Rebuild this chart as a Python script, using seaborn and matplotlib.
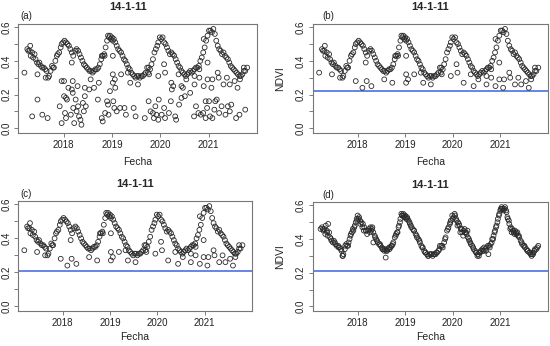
import numpy as np
import pandas as pd
import matplotlib
matplotlib.use("Agg")
import matplotlib.pyplot as plt
import seaborn as sns

# seasonal NDVI curve (decimal year, NDVI)
curve_t = [2017.25, 2017.27, 2017.30, 2017.32, 2017.35, 2017.37, 2017.40, 2017.42, 2017.45, 2017.48,
           2017.50, 2017.53, 2017.56, 2017.59, 2017.62, 2017.65, 2017.68, 2017.70, 2017.73, 2017.76,
           2017.78, 2017.80, 2017.83, 2017.86, 2017.88, 2017.91, 2017.94, 2017.96, 2017.99, 2018.02,
           2018.05, 2018.08, 2018.11, 2018.14, 2018.17, 2018.20, 2018.24, 2018.27, 2018.30, 2018.33,
           2018.36, 2018.39, 2018.42, 2018.45, 2018.48, 2018.51, 2018.54, 2018.57, 2018.60, 2018.63,
           2018.66, 2018.69, 2018.72, 2018.75, 2018.78, 2018.81, 2018.84, 2018.87, 2018.90, 2018.92,
           2018.94, 2018.96, 2018.98, 2019.00, 2019.02, 2019.04, 2019.07, 2019.10, 2019.13, 2019.16,
           2019.19, 2019.22, 2019.25, 2019.28, 2019.31, 2019.34, 2019.37, 2019.40, 2019.43, 2019.46,
           2019.49, 2019.52, 2019.55, 2019.58, 2019.61, 2019.64, 2019.67, 2019.70, 2019.73, 2019.76,
           2019.79, 2019.82, 2019.85, 2019.88, 2019.91, 2019.94, 2019.96, 2019.99, 2020.02, 2020.05,
           2020.08, 2020.11, 2020.14, 2020.17, 2020.20, 2020.23, 2020.26, 2020.29, 2020.32, 2020.35,
           2020.38, 2020.41, 2020.44, 2020.47, 2020.50, 2020.53, 2020.56, 2020.59, 2020.62, 2020.65,
           2020.68, 2020.71, 2020.74, 2020.77, 2020.80, 2020.83, 2020.86, 2020.89, 2020.92, 2020.95,
           2020.98, 2021.01, 2021.04, 2021.07, 2021.10, 2021.13, 2021.16, 2021.19, 2021.22, 2021.25,
           2021.28, 2021.31, 2021.34, 2021.37, 2021.40, 2021.43, 2021.46, 2021.49, 2021.52, 2021.55,
           2021.58, 2021.61, 2021.64, 2021.67, 2021.70, 2021.73, 2021.76, 2021.80]
curve_v = [0.47, 0.46, 0.46, 0.43, 0.45, 0.42, 0.44, 0.41, 0.39, 0.38,
           0.39, 0.37, 0.36, 0.36, 0.35, 0.34, 0.30, 0.31, 0.34, 0.37,
           0.36, 0.36, 0.40, 0.43, 0.44, 0.45, 0.48, 0.50, 0.51, 0.52,
           0.51, 0.50, 0.49, 0.47, 0.45, 0.43, 0.46, 0.47, 0.46, 0.44,
           0.42, 0.40, 0.38, 0.37, 0.36, 0.35, 0.34, 0.34, 0.33, 0.34,
           0.35, 0.35, 0.36, 0.38, 0.41, 0.43, 0.44, 0.48, 0.52, 0.55,
           0.54, 0.55, 0.53, 0.54, 0.52, 0.53, 0.51, 0.49, 0.47, 0.46,
           0.45, 0.43, 0.41, 0.40, 0.38, 0.36, 0.35, 0.33, 0.32, 0.31,
           0.30, 0.31, 0.31, 0.30, 0.31, 0.31, 0.32, 0.33, 0.36, 0.36,
           0.35, 0.38, 0.41, 0.45, 0.47, 0.49, 0.51, 0.54, 0.53, 0.54,
           0.51, 0.50, 0.48, 0.46, 0.44, 0.45, 0.44, 0.43, 0.41, 0.39,
           0.37, 0.36, 0.34, 0.33, 0.32, 0.31, 0.32, 0.33, 0.34, 0.33,
           0.34, 0.35, 0.36, 0.36, 0.37, 0.40, 0.42, 0.45, 0.48, 0.52,
           0.55, 0.58, 0.58, 0.57, 0.59, 0.56, 0.52, 0.49, 0.47, 0.46,
           0.44, 0.45, 0.43, 0.42, 0.41, 0.39, 0.37, 0.36, 0.35, 0.34,
           0.33, 0.32, 0.31, 0.31, 0.32, 0.34, 0.34, 0.36]

# scattered values between the threshold and the curve
mid_t = [2017.19, 2017.31, 2017.46, 2017.63, 2017.96, 2018.10, 2018.19, 2018.29, 2018.17, 2018.56,
         2018.73, 2018.79, 2018.85, 2019.02, 2019.02, 2019.02, 2019.06, 2019.19, 2019.33, 2019.38,
         2019.54, 2019.77, 2019.75, 2019.96, 2020.08, 2020.10, 2020.23, 2020.38, 2020.44, 2020.54,
         2020.71, 2020.71, 2020.81, 2020.81, 2020.90, 2020.90, 2020.98, 2020.98, 2021.06, 2021.08,
         2021.19, 2021.21, 2021.31, 2021.38, 2021.44, 2021.54, 2021.60, 2021.65, 2021.73]
mid_v = [0.33, 0.49, 0.32, 0.30, 0.28, 0.24, 0.28, 0.25, 0.39, 0.29,
         0.27, 0.43, 0.43, 0.43, 0.32, 0.27, 0.29, 0.32, 0.33, 0.27,
         0.26, 0.32, 0.33, 0.31, 0.38, 0.33, 0.27, 0.32, 0.25, 0.29,
         0.31, 0.26, 0.30, 0.35, 0.25, 0.53, 0.39, 0.29, 0.24, 0.29,
         0.33, 0.30, 0.26, 0.30, 0.26, 0.28, 0.24, 0.29, 0.36]

# low values (cloud contaminated), only in the raw series
low_t = [2017.35, 2017.46, 2017.56, 2017.67, 2017.92, 2017.96, 2018.01, 2018.01, 2018.05, 2018.07,
         2018.03, 2018.05, 2018.15, 2018.17, 2018.19, 2018.20, 2018.22, 2018.25, 2018.27, 2018.30,
         2018.32, 2018.35, 2018.37, 2018.40, 2018.42, 2018.44, 2018.46, 2018.53, 2018.44, 2018.63,
         2018.71, 2018.79, 2018.81, 2018.86, 2018.90, 2018.93, 2018.96, 2018.92, 2019.03, 2019.07,
         2019.05, 2019.10, 2019.17, 2019.26, 2019.29, 2019.45, 2019.49, 2019.68, 2019.76, 2019.80,
         2019.85, 2019.87, 2019.90, 2019.92, 2019.96, 2019.97, 2020.03, 2020.08, 2020.10, 2020.18,
         2020.22, 2020.24, 2020.27, 2020.31, 2020.33, 2020.39, 2020.44, 2020.47, 2020.51, 2020.62,
         2020.70, 2020.74, 2020.79, 2020.84, 2020.89, 2020.94, 2020.94, 2020.97, 2021.01, 2021.03,
         2021.08, 2021.12, 2021.14, 2021.17, 2021.22, 2021.27, 2021.35, 2021.40, 2021.44, 2021.47,
         2021.57, 2021.64, 2021.76]
low_v = [0.07, 0.17, 0.08, 0.06, 0.13, 0.03, 0.28, 0.19, 0.18, 0.17,
         0.09, 0.06, 0.08, 0.23, 0.21, 0.12, 0.03, 0.17, 0.10, 0.13,
         0.07, 0.05, 0.02, 0.15, 0.10, 0.19, 0.13, 0.23, 0.24, 0.24,
         0.17, 0.06, 0.04, 0.09, 0.16, 0.08, 0.22, 0.14, 0.16, 0.24,
         0.12, 0.10, 0.12, 0.12, 0.08, 0.12, 0.07, 0.06, 0.16, 0.10,
         0.09, 0.06, 0.13, 0.08, 0.05, 0.17, 0.08, 0.12, 0.06, 0.09,
         0.16, 0.23, 0.25, 0.07, 0.05, 0.14, 0.18, 0.24, 0.19, 0.21,
         0.07, 0.13, 0.09, 0.08, 0.09, 0.06, 0.16, 0.12, 0.16, 0.07,
         0.06, 0.11, 0.16, 0.17, 0.09, 0.13, 0.08, 0.13, 0.10, 0.14,
         0.06, 0.08, 0.11]

# gap-filled values of the smoothed series (panel d)
fill_t = [2017.22, 2017.28, 2017.33, 2017.36, 2017.38, 2017.44, 2017.52, 2017.60, 2017.66, 2017.69,
          2017.74, 2017.81, 2017.85, 2017.90, 2017.93, 2017.98, 2018.00, 2018.03, 2018.06, 2018.10,
          2018.13, 2018.18, 2018.22, 2018.26, 2018.29, 2018.31, 2018.33, 2018.37, 2018.41, 2018.47,
          2018.52, 2018.56, 2018.59, 2018.62, 2018.67, 2018.71, 2018.74, 2018.80, 2018.83, 2018.86,
          2018.89, 2018.93, 2018.97, 2019.01, 2019.05, 2019.09, 2019.12, 2019.18, 2019.24, 2019.30,
          2019.36, 2019.42, 2019.48, 2019.54, 2019.60, 2019.66, 2019.72, 2019.78, 2019.84, 2019.90,
          2019.95, 2020.00, 2020.04, 2020.07, 2020.10, 2020.13, 2020.16, 2020.19, 2020.22, 2020.25,
          2020.28, 2020.31, 2020.34, 2020.37, 2020.43, 2020.49, 2020.52, 2020.55, 2020.58, 2020.63,
          2020.66, 2020.70, 2020.75, 2020.78, 2020.82, 2020.85, 2020.88, 2020.91, 2020.94, 2020.97,
          2021.00, 2021.03, 2021.06, 2021.09, 2021.12, 2021.15, 2021.18, 2021.21, 2021.24, 2021.27,
          2021.30, 2021.33, 2021.36, 2021.39, 2021.45, 2021.51, 2021.57, 2021.63, 2021.66, 2021.69,
          2021.72, 2021.78]
fill_v = [0.46, 0.45, 0.48, 0.44, 0.49, 0.40, 0.38, 0.35, 0.33, 0.30,
          0.36, 0.38, 0.42, 0.46, 0.47, 0.52, 0.54, 0.53, 0.49, 0.47,
          0.45, 0.45, 0.45, 0.44, 0.45, 0.47, 0.38, 0.41, 0.39, 0.37,
          0.34, 0.33, 0.29, 0.33, 0.34, 0.36, 0.37, 0.42, 0.44, 0.47,
          0.50, 0.54, 0.54, 0.53, 0.52, 0.50, 0.48, 0.45, 0.42, 0.39,
          0.35, 0.32, 0.30, 0.31, 0.31, 0.32, 0.34, 0.36, 0.40, 0.46,
          0.50, 0.52, 0.55, 0.52, 0.48, 0.49, 0.44, 0.46, 0.42, 0.46,
          0.44, 0.45, 0.40, 0.38, 0.35, 0.32, 0.30, 0.30, 0.32, 0.33,
          0.35, 0.33, 0.31, 0.35, 0.38, 0.40, 0.44, 0.47, 0.50, 0.54,
          0.57, 0.59, 0.58, 0.58, 0.57, 0.53, 0.51, 0.46, 0.44, 0.45,
          0.43, 0.44, 0.44, 0.42, 0.38, 0.36, 0.33, 0.32, 0.30, 0.31,
          0.33, 0.35]

panel_tags = ["(a)", "(b)", "(c)", "(d)"]
thresholds = [None, 0.22, 0.21, 0.21]
year_ticks = [2018, 2019, 2020, 2021]

frames = [
    pd.DataFrame({"Fecha": curve_t + mid_t + low_t, "NDVI": curve_v + mid_v + low_v}),
    pd.DataFrame({"Fecha": curve_t + mid_t, "NDVI": curve_v + mid_v}),
    pd.DataFrame({"Fecha": curve_t + mid_t, "NDVI": curve_v + mid_v}),
    pd.DataFrame({"Fecha": curve_t + fill_t, "NDVI": curve_v + fill_v}),
]

sns.set_theme(style="white")
plt.rcParams["font.family"] = ["Liberation Sans", "DejaVu Sans"]

fig = plt.figure(figsize=(5.5, 3.46), dpi=100)
boxes = [[0.033, 0.616, 0.434, 0.315],
         [0.569, 0.616, 0.427, 0.315],
         [0.033, 0.101, 0.425, 0.318],
         [0.569, 0.101, 0.427, 0.315]]
title_x = [0.46, 0.5, 0.5, 0.5]
tag_pos = [(0.035, 1.028), (0.064, 1.028), (0.035, 1.02), (0.064, 1.02)]

for i, df in enumerate(frames):
    ax = fig.add_axes(boxes[i])
    sns.scatterplot(data=df, x="Fecha", y="NDVI", ax=ax, marker="o", s=12,
                    facecolors="none", edgecolor="#2a2a2a", linewidth=0.6)
    if thresholds[i] is not None:
        ax.axhline(thresholds[i], color="#4a6fe3", lw=1.2, zorder=0)
    ax.set_xlim(2017.06, 2022.0)
    ax.set_ylim(-0.028, 0.62)
    ax.set_xticks(year_ticks)
    ax.set_xticklabels([str(y) for y in year_ticks])
    ax.set_yticks([0.0, 0.1, 0.2, 0.3, 0.4, 0.5, 0.6])
    ax.set_yticklabels(["0.0", "", "0.2", "", "0.4", "", "0.6"], rotation=90, va="center")
    ax.tick_params(direction="out", length=3, width=0.6, color="#666666",
                   labelsize=7, labelcolor="#222222", pad=2, left=True, bottom=True)
    for sp in ax.spines.values():
        sp.set_color("#777777")
        sp.set_linewidth(0.8)
    ax.set_xlabel("Fecha", fontsize=7.5, color="#222222", labelpad=5 if i < 2 else 3)
    if i in (1, 3):
        ax.set_ylabel("NDVI", fontsize=7.5, color="#222222", labelpad=8)
    else:
        ax.set_ylabel("")
    ax.set_title("14-1-11", fontsize=8, fontweight="bold", pad=10, x=title_x[i])
    ax.text(tag_pos[i][0], tag_pos[i][1], panel_tags[i], transform=ax.transAxes,
            fontsize=7, ha="center", va="bottom", color="#222222")

fig.savefig("out.png", dpi=100)
